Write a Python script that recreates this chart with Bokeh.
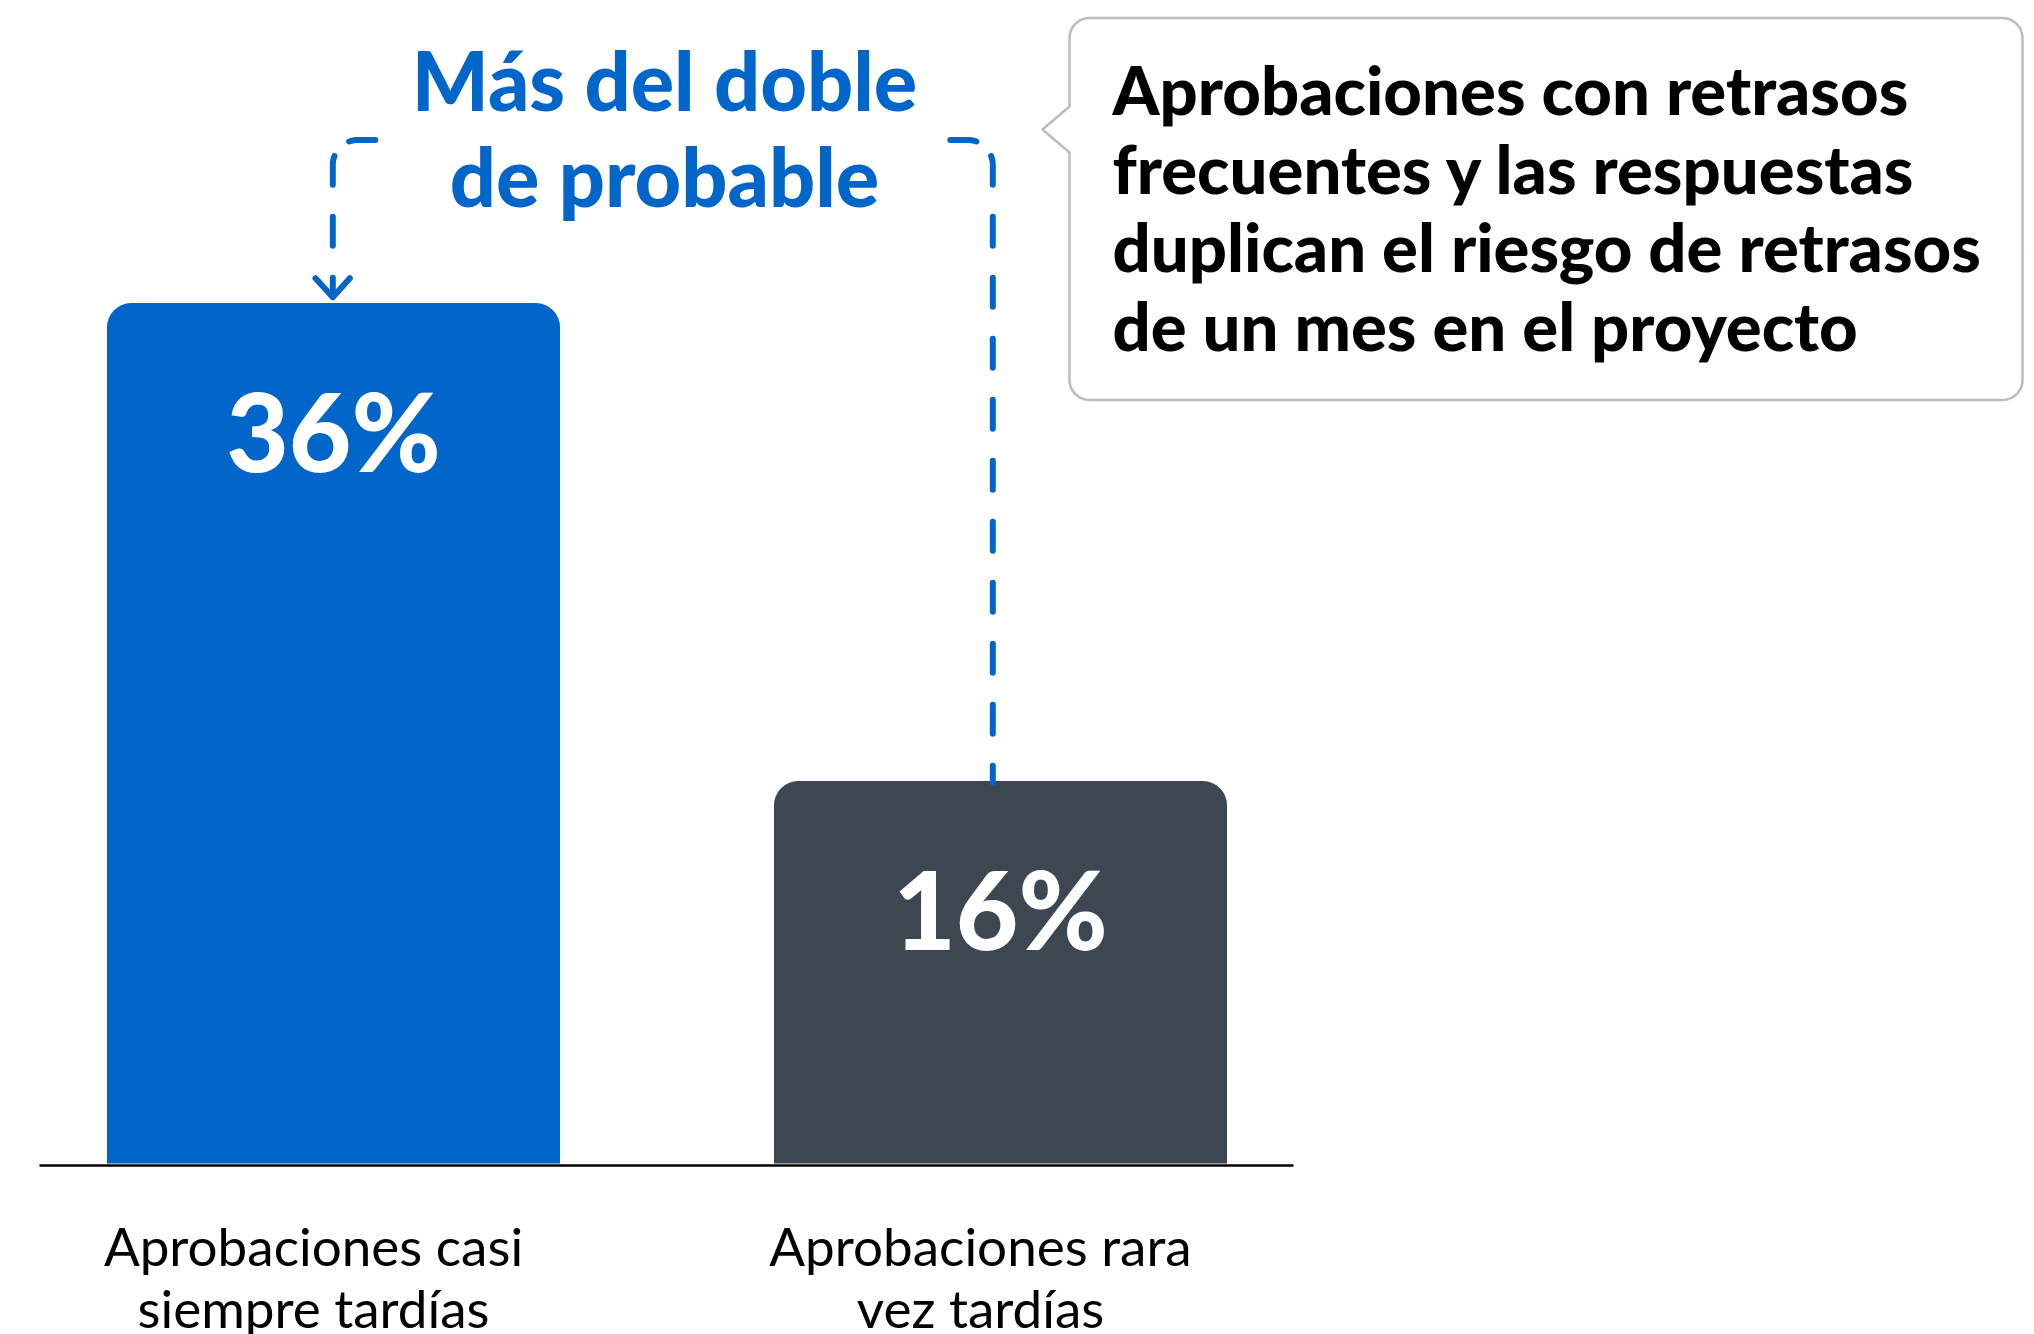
import numpy as np
from bokeh.plotting import figure
from bokeh.models import Range1d, ColumnDataSource
from bokeh.embed import file_html
from bokeh.resources import INLINE
from bokeh.core.properties import value

# ---------------- data ----------------
cat_line1 = ["Aprobaciones casi", "Aprobaciones rara"]
cat_line2 = ["siempre tardías", "vez tardías"]
values = [36, 16]
value_labels = ["36%", "16%"]
bar_colors = ["#0265C9", "#3D4751"]
title_lines = ["Más del doble", "de probable"]
callout_lines = ["Aprobaciones con retrasos",
                 "frecuentes y las respuestas",
                 "duplican el riesgo de retrasos",
                 "de un mes en el proyecto"]

BLUE = "#0265C9"

# ---------------- layout (page pixels) ----------------
W, H = 2034, 1334
ORIGIN = 0
CAT0_PX = 333.0      # page x of the first category centre
CAT_STEP_PX = 667.0  # page px between categories
BASE_PX = 1163.0     # page y of value 0
PX_PER_PCT = 23.9    # page px per percentage point
BL = 0.39            # baseline correction (fraction of font size)


def xd(px):
    return (px - CAT0_PX) / CAT_STEP_PX


def yd(py):
    return (BASE_PX - py) / PX_PER_PCT


def ytext(baseline_px, size):
    return yd(baseline_px - BL * size)


def xs_d(pts):
    return [xd(a) for a, b in pts]


def ys_d(pts):
    return [yd(b) for a, b in pts]


p = figure(width=W, height=H, output_backend="svg", toolbar_location=None,
           x_range=Range1d(xd(ORIGIN), xd(ORIGIN + W)),
           y_range=Range1d(yd(ORIGIN + H), yd(ORIGIN)),
           x_axis_location=None, y_axis_location=None,
           min_border=0, outline_line_color=None,
           background_fill_color="white", border_fill_color="white")
p.grid.visible = False

xs = list(range(len(values)))

NUM_SIZE = 108
LAB_SIZE = 53
TITLE_SIZE = 81
CALL_SIZE = 67

# ---------------- bars ----------------
src = ColumnDataSource(dict(
    x=xs, top=values, color=bar_colors, label=value_labels,
    label_y=[v - (169 - BL * NUM_SIZE) / PX_PER_PCT for v in values],
    l1=cat_line1, l2=cat_line2,
    lx=[x - 20 / CAT_STEP_PX for x in xs]))
p.vbar(x="x", top="top", bottom=0, width=453 / CAT_STEP_PX, source=src,
       fill_color="color", line_color=None, border_radius=(24, 24, 0, 0))

# baseline
p.segment(x0=[xd(39)], y0=[yd(1165)], x1=[xd(1293)], y1=[yd(1165)],
          line_color="black", line_width=2.5)

# value labels
p.text(x="x", y="label_y", text="label", source=src, text_align="center",
       text_baseline="alphabetic", text_color="white",
       text_font=value("Lato Black"), text_font_style="bold",
       text_font_size=f"{NUM_SIZE}px")

# category labels
p.text(x="lx", y=ytext(1266, LAB_SIZE), text="l1", source=src, text_align="center",
       text_baseline="alphabetic", text_color="black",
       text_font=value("Lato"), text_font_size=f"{LAB_SIZE}px")
p.text(x="lx", y=ytext(1328, LAB_SIZE), text="l2", source=src, text_align="center",
       text_baseline="alphabetic", text_color="black",
       text_font=value("Lato"), text_font_size=f"{LAB_SIZE}px")

# ---------------- title ----------------
p.text(x=[xd(664)] * 2, y=[ytext(110.7, TITLE_SIZE), ytext(206.7, TITLE_SIZE)],
       text=title_lines, text_align="center", text_baseline="alphabetic",
       text_color=BLUE, text_font=value("Lato Black"), text_font_style="bold",
       text_font_size=f"{TITLE_SIZE}px")

# ---------------- dashed connector ----------------
R = 25.0
def arc(cx, cy, th0, th1, sign):
    th = np.linspace(th0, th1, 20)
    return [(cx + sign * R * np.sin(t), cy - R * np.cos(t)) for t in th]

lA = [(374.8, 139.5)] + arc(357.3, 164.5, 0, 0.35, -1)
lB = arc(357.3, 164.5, 1.2, np.pi / 2, -1) + [(332.3, 296.0)]
rA = [(949.8, 139.5)] + arc(967.3, 164.5, 0, 0.35, 1)
rB = arc(967.3, 164.5, 1.2, np.pi / 2, 1) + [(992.3, 782.0)]

for pts in (lA, rA):
    p.line(xs_d(pts), ys_d(pts), line_color=BLUE, line_width=6, line_cap="round")
for pts in (lB, rB):
    p.line(xs_d(pts), ys_d(pts), line_color=BLUE, line_width=6, line_cap="round",
           line_dash="29 32")
chev = [(315.0, 277.7), (332.3, 296.7), (349.3, 277.7)]
p.line(xs_d(chev), ys_d(chev), line_color=BLUE, line_width=6,
       line_cap="round", line_join="round")

# ---------------- callout ----------------
L, Rt, T, B, r = 1069.0, 2022.0, 17.5, 399.5, 20.0
def corner(cx, cy, a0, a1):
    a = np.linspace(a0, a1, 12)
    return [(cx + r * np.cos(t), cy + r * np.sin(t)) for t in a]

outline = []
outline += corner(L + r, T + r, np.pi, 1.5 * np.pi)
outline += corner(Rt - r, T + r, 1.5 * np.pi, 2 * np.pi)
outline += corner(Rt - r, B - r, 0, 0.5 * np.pi)
outline += corner(L + r, B - r, 0.5 * np.pi, np.pi)
outline += [(L, 152.0), (1042.0, 129.0), (L, 106.0)]
p.patch(xs_d(outline), ys_d(outline), fill_color="white",
        line_color="#B9BCC0", line_width=2.5)

p.text(x=[xd(1112)] * 4,
       y=[ytext(115 + i * 78.5, CALL_SIZE) for i in range(4)],
       text=callout_lines, text_align="left", text_baseline="alphabetic",
       text_color="black", text_font=value("Lato Black"), text_font_style="bold",
       text_font_size=f"{CALL_SIZE}px")

open("out.html", "w").write(file_html(p, INLINE))
